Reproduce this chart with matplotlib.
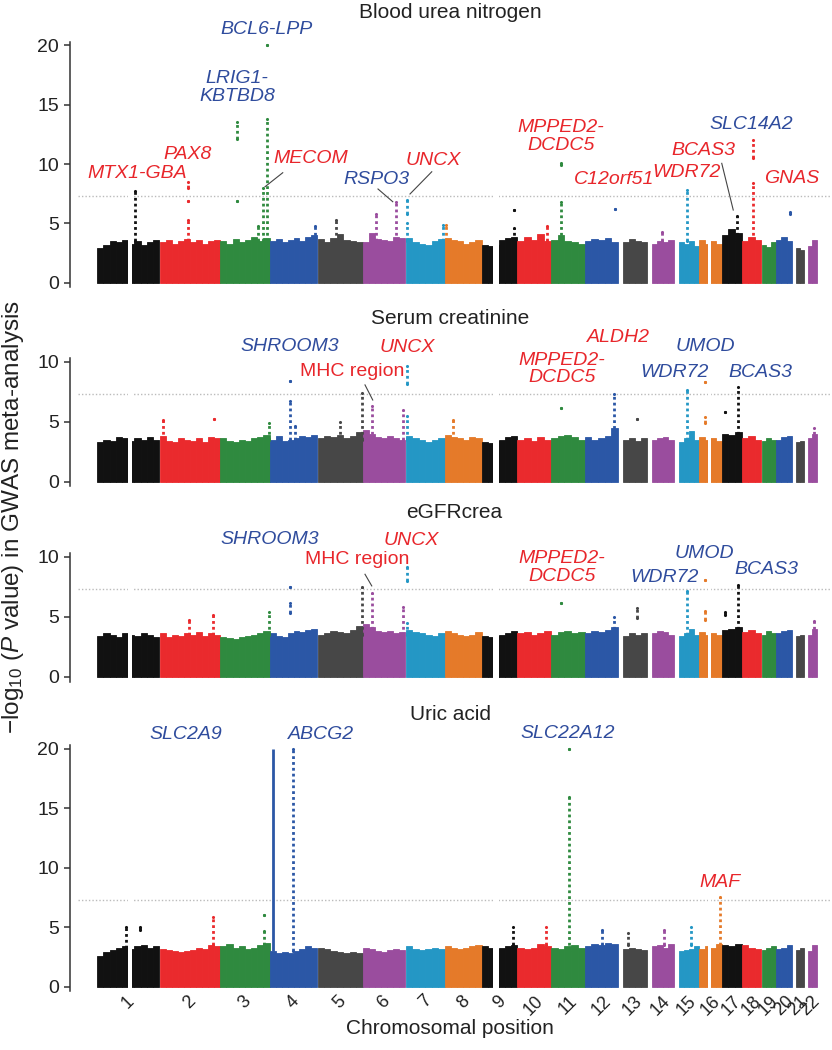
import numpy as np
import matplotlib
matplotlib.use("Agg")
import matplotlib.pyplot as plt

plt.rcParams['font.family'] = ['Liberation Sans', 'DejaVu Sans']
plt.rcParams['mathtext.fontset'] = 'custom'
plt.rcParams['mathtext.rm'] = 'Liberation Sans'
plt.rcParams['mathtext.it'] = 'Liberation Sans:italic'

# chromosome layout (Mb)
chrom_names = [str(i) for i in range(1, 23)]
chrom_len = [249, 243, 198, 191, 181, 171, 159, 146, 141, 136, 135, 134,
             115, 107, 102, 90, 81, 78, 59, 63, 48, 51]
chrom_first = [1, 1, 1, 1, 1, 1, 1, 1, 1, 1, 1, 1,
               19, 19, 20, 1, 1, 1, 1, 1, 15, 16]
gaps = [(1, 124, 141), (9, 47, 71), (16, 36, 46)]
palette = ['#111111', '#ea2a2d', '#2f8a3f', '#2b57a6', '#474747', '#9a4d9e',
           '#2497c5', '#e57a29']
chrom_colors = [palette[i % 8] for i in range(22)]
RED = '#e8262b'
BLUE = '#2f4c9d'

# bulk height of the dense SNP cloud, per chromosome
bun_base = [
    [2.9, 3.2, 3.5, 3.4, 3.6, 3.3, 3.5, 3.2, 3.4, 3.6],
    [3.4, 3.6, 3.3, 3.5, 3.7, 3.4, 3.6, 3.3, 3.5, 3.6],
    [3.5, 3.3, 3.7, 3.4, 3.6, 3.9, 3.5, 3.8],
    [3.5, 3.7, 3.4, 3.6, 3.8, 3.5, 3.9, 4.0],
    [3.7, 3.4, 3.8, 4.1, 3.6, 3.5, 3.4],
    [3.4, 4.2, 3.7, 3.6, 3.5, 3.9, 3.8],
    [3.8, 3.4, 3.3, 3.2, 3.5, 3.7],
    [3.8, 3.6, 3.5, 3.3, 3.4, 3.6],
    [3.2, 3.1, 3.2, 3.6, 3.8, 3.9],
    [3.5, 3.9, 3.6, 4.1, 3.5],
    [3.6, 4.0, 3.5, 3.4, 3.3],
    [3.5, 3.7, 3.6, 3.8, 3.4],
    [3.4, 3.7, 3.5, 3.4],
    [3.3, 3.5, 3.4, 3.6],
    [3.4, 3.3, 3.5, 3.1],
    [3.6, 3.3, 3.5, 3.3],
    [4.0, 4.5, 4.2],
    [3.5, 3.9, 3.6],
    [3.2, 3.0, 3.4],
    [3.6, 3.9, 3.5],
    [2.9, 2.8],
    [3.1, 3.6],
]
creat_base = [
    [3.3, 3.5, 3.4, 3.7, 3.6, 3.4, 3.6, 3.5, 3.7, 3.5],
    [3.8, 3.4, 3.3, 3.6, 3.5, 3.4, 3.6, 3.3, 3.7, 3.6],
    [3.6, 3.4, 3.3, 3.5, 3.4, 3.6, 3.7, 3.9],
    [3.5, 3.8, 3.4, 3.5, 3.6, 3.8, 3.7, 3.9],
    [3.6, 3.8, 3.7, 3.9, 3.6, 3.8, 4.1],
    [4.3, 4.0, 3.7, 3.6, 3.8, 3.6, 3.5],
    [3.8, 3.6, 3.5, 3.3, 3.5, 3.6],
    [3.9, 3.7, 3.6, 3.5, 3.7, 3.6],
    [3.3, 3.2, 3.4, 3.5, 3.7, 3.8],
    [3.5, 3.6, 3.4, 3.7, 3.5],
    [3.6, 3.8, 3.9, 3.7, 3.5],
    [3.7, 3.5, 3.6, 3.8, 4.5],
    [3.5, 3.6, 3.4, 3.6],
    [3.5, 3.6, 3.7, 3.5],
    [3.3, 3.6, 4.2, 3.5],
    [3.7, 3.5, 3.6, 3.4],
    [4.0, 3.9, 4.1],
    [3.6, 3.8, 3.5],
    [3.4, 3.6, 3.5],
    [3.5, 3.7, 3.8],
    [3.3, 3.4],
    [3.6, 4.0],
]
egfr_base = [
    [3.4, 3.6, 3.5, 3.3, 3.6, 3.5, 3.4, 3.6, 3.5, 3.3],
    [3.6, 3.3, 3.5, 3.4, 3.6, 3.5, 3.7, 3.4, 3.6, 3.5],
    [3.3, 3.2, 3.1, 3.3, 3.4, 3.5, 3.6, 3.8],
    [3.6, 3.4, 3.3, 3.6, 3.8, 3.7, 3.9, 4.0],
    [3.5, 3.6, 3.8, 3.7, 3.6, 3.9, 4.2],
    [4.4, 4.1, 3.8, 3.7, 3.8, 3.6, 3.7],
    [3.9, 3.7, 3.6, 3.5, 3.4, 3.6],
    [3.8, 3.6, 3.5, 3.4, 3.5, 3.7],
    [3.4, 3.3, 3.4, 3.5, 3.6, 3.8],
    [3.6, 3.7, 3.5, 3.6, 3.8],
    [3.5, 3.7, 3.8, 3.6, 3.7],
    [3.6, 3.8, 3.7, 3.9, 4.1],
    [3.4, 3.6, 3.5, 3.6],
    [3.6, 3.8, 3.7, 3.5],
    [3.4, 3.6, 4.0, 3.5],
    [3.7, 3.5, 3.6, 3.5],
    [3.9, 4.0, 4.1],
    [3.7, 3.9, 3.6],
    [3.5, 3.8, 3.6],
    [3.6, 3.8, 3.9],
    [3.4, 3.5],
    [3.5, 4.0],
]
urate_base = [
    [2.6, 2.9, 3.1, 3.3, 3.4, 3.2, 3.4, 3.5, 3.3, 3.4],
    [3.2, 3.1, 3.0, 2.9, 3.0, 3.1, 3.3, 3.2, 3.5, 3.4],
    [3.4, 3.6, 3.3, 3.4, 3.2, 3.3, 3.5, 3.7],
    [3.0, 2.8, 2.9, 2.8, 3.0, 3.2, 3.4, 3.3],
    [3.3, 3.2, 3.0, 2.9, 2.8, 2.9, 2.8],
    [3.3, 3.2, 3.0, 2.9, 3.1, 3.2, 3.1],
    [3.4, 3.2, 3.1, 3.2, 3.3, 3.2],
    [3.4, 3.3, 3.2, 3.3, 3.4, 3.5],
    [3.4, 3.3, 3.2, 3.3, 3.4, 3.5],
    [3.3, 3.2, 3.3, 3.6, 3.4],
    [3.3, 3.2, 3.4, 3.5, 3.3],
    [3.4, 3.6, 3.5, 3.7, 3.6],
    [3.2, 3.3, 3.2, 3.1],
    [3.4, 3.5, 3.3, 3.6],
    [3.0, 3.1, 3.2, 3.4],
    [3.2, 3.4, 3.3, 3.6],
    [3.5, 3.4, 3.6],
    [3.5, 3.3, 3.2],
    [3.1, 3.3, 3.4],
    [3.2, 3.3, 3.5],
    [3.1, 3.3],
    [3.0, 3.5],
]

# signal columns: (chromosome, position Mb, lowest -log10 P, highest -log10 P)
bun_spikes = [(1, 152, 3.5, 7.7), (2, 113, 3.5, 5.3), (2, 113, 6.9, 6.9),
              (2, 113, 8.0, 8.5), (3, 69, 12.1, 13.5), (3, 66, 6.9, 6.9),
              (3, 173, 3.5, 8.0), (3, 187, 3.5, 13.8), (3, 187, 20.0, 20.0),
              (3, 150, 3.5, 4.8), (4, 182, 3.5, 4.8), (5, 76, 3.5, 5.3),
              (6, 54, 3.5, 5.8), (6, 134, 3.5, 6.8), (7, 7, 3.5, 5.0),
              (7, 7, 5.8, 7.0), (7, 150, 3.5, 4.9), (8, 5, 3.5, 4.9),
              (9, 131, 6.1, 6.1), (9, 131, 3.5, 4.6), (10, 122, 3.5, 4.8),
              (11, 40, 9.9, 10.1), (11, 40, 3.5, 6.8), (12, 121, 6.2, 6.2),
              (15, 53, 3.5, 7.8), (17, 60, 3.5, 5.6), (18, 43, 10.5, 12.0),
              (18, 43, 3.5, 8.4), (20, 57, 5.8, 6.0), (14, 60, 3.5, 4.3)]
creat_spikes = [(4, 82, 3.5, 6.7), (4, 82, 8.4, 8.4), (5, 178, 3.5, 7.4),
                (6, 37, 3.5, 6.3), (7, 7, 3.5, 5.5), (7, 7, 8.1, 9.6),
                (6, 160, 3.5, 6.0), (2, 16, 3.5, 5.1), (2, 217, 5.2, 5.2),
                (3, 196, 3.5, 4.9), (4, 100, 3.5, 4.6), (5, 90, 3.5, 5.0),
                (8, 32, 3.5, 5.1), (11, 40, 6.1, 6.1), (12, 119, 3.5, 7.3),
                (13, 75, 5.2, 5.2), (15, 53, 3.5, 7.6), (16, 24, 8.3, 8.3),
                (16, 24, 4.9, 5.4), (17, 12, 5.8, 5.8), (17, 65, 3.5, 7.9),
                (22, 40, 3.5, 4.5)]
egfr_spikes = [(4, 82, 5.3, 6.1), (4, 82, 7.45, 7.45), (5, 178, 3.5, 7.45),
               (6, 37, 3.5, 6.95), (7, 7, 8.0, 9.1), (7, 7, 3.5, 4.5),
               (6, 160, 3.5, 5.8), (11, 40, 6.1, 6.1), (13, 75, 4.9, 5.7),
               (15, 53, 3.5, 7.15), (16, 24, 8.05, 8.05), (16, 24, 4.7, 5.5),
               (17, 12, 5.1, 5.4), (17, 65, 3.5, 7.6), (2, 120, 3.5, 4.7),
               (2, 215, 3.5, 5.1), (3, 195, 3.5, 5.4), (12, 119, 3.5, 5.0),
               (22, 40, 3.5, 4.6)]
urate_spikes = [(4, 95, 3.0, 20.0), (11, 73, 3.0, 16.0), (11, 73, 20.0, 20.0),
                (16, 84, 3.5, 7.57), (1, 116, 3.3, 5.0), (1, 170, 4.8, 5.0),
                (2, 213, 3.5, 5.9), (3, 177, 3.5, 4.7), (3, 177, 6.0, 6.0),
                (9, 125, 3.5, 5.0), (10, 115, 3.5, 5.0), (12, 70, 3.5, 4.8),
                (13, 40, 3.5, 4.5), (14, 70, 3.5, 4.8), (15, 70, 3.5, 5.0)]
urate_solid = [(4, 15, 3.0, 20.0)]

# gene labels: (text, chromosome, position Mb, y, colour, italic)
bun_labels = [('MTX1-GBA', 1, 159, 9.24, RED, True), ('PAX8', 2, 115, 10.84, RED, True),
              ('LRIG1-\nKBTBD8', 3, 68, 16.47, BLUE, True),
              ('BCL6-LPP', 3, 188, 21.3, BLUE, True), ('MECOM', 4, 166, 10.5, RED, True),
              ('RSPO3', 6, 54, 8.66, BLUE, True), ('UNCX', 7, 111, 10.34, RED, True),
              ('MPPED2-\nDCDC5', 11, 41, 12.3, RED, True),
              ('C12orf51', 12, 118, 8.66, RED, True), ('WDR72', 15, 54, 9.33, RED, True),
              ('BCAS3', 16, 19, 11.1, RED, True), ('SLC14A2', 18, 40, 13.36, BLUE, True),
              ('GNAS', 20, 63, 8.82, RED, True)]
creat_labels = [('SHROOM3', 4, 82, 11.25, BLUE, True), ('UNCX', 6, 178, 11.2, RED, True),
                ('MHC region', 5, 139, 9.17, RED, False),
                ('MPPED2-\nDCDC5', 11, 44, 9.37, RED, True),
                ('ALDH2', 12, 134, 11.97, RED, True), ('UMOD', 16, 27, 11.25, BLUE, True),
                ('WDR72', 15, 6, 9.08, BLUE, True), ('BCAS3', 18, 76, 9.08, BLUE, True)]
egfr_labels = [('SHROOM3', 4, 2, 11.4, BLUE, True), ('UNCX', 7, 25, 11.3, RED, True),
               ('MHC region', 5, 159, 9.8, RED, False),
               ('MPPED2-\nDCDC5', 11, 44, 9.1, RED, True),
               ('UMOD', 16, 23, 10.3, BLUE, True), ('WDR72', 14, 69, 8.3, BLUE, True),
               ('BCAS3', 19, 22, 8.95, BLUE, True)]
urate_labels = [('SLC2A9', 2, 108, 21.2, BLUE, True), ('ABCG2', 4, 206, 21.2, BLUE, True),
                ('SLC22A12', 11, 69, 21.3, BLUE, True), ('MAF', 16, 83, 8.8, RED, True)]

# leader lines in genome Mb / -log10 P
bun_leaders = [(743, 9.27, 672, 8.09), (1124, 7.9, 1183, 6.83),
               (1339, 9.35, 1252, 7.48), (2499, 10.06, 2545, 6.13)]
creat_leaders = [(1072, 8.06, 1103, 6.8)]
egfr_leaders = [(1072, 8.53, 1099, 7.56)]
urate_leaders = []

titles = ['Blood urea nitrogen', 'Serum creatinine', 'eGFRcrea', 'Uric acid']
title_px = [(450, 12), (450, 318), (454, 512), (450, 715)]
# axes boxes in pixels: left, top, width, height
boxes = [(70, 41.7, 760, 245.3), (70, 358, 760, 128.5),
         (70, 553, 760, 128.5), (70, 745.4, 760, 245.5)]
ylims = [(-0.35, 20.3), (-0.4, 10.3), (-0.4, 10.3), (-0.35, 20.3)]
yticks = [[0, 5, 10, 15, 20], [0, 5, 10], [0, 5, 10], [0, 5, 10, 15, 20]]

W, H = 832, 1050
offset = np.concatenate([[0], np.cumsum(chrom_len)[:-1]])


def draw_panel(ax, base, spikes, solid, labels, leaders):
    for c in range(22):
        h = np.array(base[c])
        edges = np.linspace(chrom_first[c], chrom_len[c], len(h) + 1)
        ax.bar(offset[c] + edges[:-1], h, width=np.diff(edges), align='edge',
               color=chrom_colors[c], edgecolor=chrom_colors[c], linewidth=0.6,
               zorder=2)
    for c, a, b in gaps:
        ax.axvspan(offset[c - 1] + a, offset[c - 1] + b, color='white', lw=0, zorder=3)
    for c, pos, lo, hi in spikes:
        x = offset[c - 1] + pos
        col = chrom_colors[c - 1]
        if hi > lo:
            ax.vlines(x, lo, hi, colors=col, linestyles=(0, (1, 1.1)), lw=2, zorder=4)
        ax.scatter([x, x], [lo, hi], s=5, color=col, lw=0, zorder=4)
    for c, pos, lo, hi in solid:
        x = offset[c - 1] + pos
        ax.vlines(x, lo, hi, colors=chrom_colors[c - 1], lw=2.0, zorder=4)
    for txt, c, pos, y, col, ital in labels:
        ax.text(offset[c - 1] + pos, y, txt, color=col, fontsize=14,
                style='italic' if ital else 'normal', ha='center', va='center',
                linespacing=1.05, zorder=5)
    for x0, y0, x1, y1 in leaders:
        ax.plot([x0, x1], [y0, y1], color='#444444', lw=0.8, zorder=5)
    ax.axhline(7.3, xmin=0.01, xmax=1, color='#bbbbbb', ls=(0, (1, 1.5)), lw=1, zorder=1)


fig = plt.figure(figsize=(W / 100, H / 100), dpi=100)
panels = [(bun_base, bun_spikes, [], bun_labels, bun_leaders),
          (creat_base, creat_spikes, [], creat_labels, creat_leaders),
          (egfr_base, egfr_spikes, [], egfr_labels, egfr_leaders),
          (urate_base, urate_spikes, urate_solid, urate_labels, urate_leaders)]

for i, (base, spikes, solid, labels, leaders) in enumerate(panels):
    l, t, w, h = boxes[i]
    ax = fig.add_axes([l / W, 1 - (t + h) / H, w / W, h / H])
    draw_panel(ax, base, spikes, solid, labels, leaders)
    ax.set_xlim(-108, 2932)
    ax.set_ylim(*ylims[i])
    ax.set_yticks(yticks[i])
    for s in ['top', 'right', 'bottom']:
        ax.spines[s].set_visible(False)
    ax.spines['left'].set_color('#333333')
    ax.spines['left'].set_linewidth(1.1)
    ax.tick_params(axis='y', labelsize=14, length=4, width=1.1, color='#333333',
                   pad=4, labelcolor='#222222')
    if i < 3:
        ax.set_xticks([])
    else:
        ax.set_xticks(offset + np.array(chrom_len) / 2)
        ax.set_xticklabels(chrom_names, rotation=45, fontsize=13, color='#222222')
        ax.tick_params(axis='x', length=0, pad=1)
    fig.text(title_px[i][0] / W, 1 - title_px[i][1] / H, titles[i], fontsize=15,
             ha='center', va='center', color='#222222')

fig.text(13 / W, 1 - 517 / H,
         r'$\mathregular{-log_{10}}$ ($\mathit{P}$ value) in GWAS meta-analysis',
         rotation=90, fontsize=17.5, ha='center', va='center', color='#222222')
fig.text(450 / W, 1 - 1028 / H, 'Chromosomal position', fontsize=15,
         ha='center', va='center', color='#222222')

fig.savefig('out.png', dpi=100)
